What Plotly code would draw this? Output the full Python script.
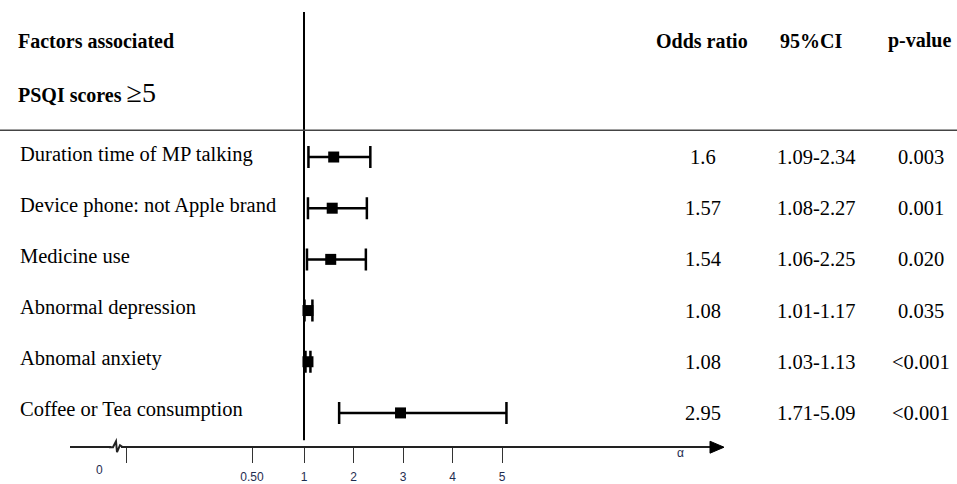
import plotly.graph_objects as go

# ---------------- data ----------------
factors = [
    "Duration time of MP talking",
    "Device phone: not Apple brand",
    "Medicine use",
    "Abnormal depression",
    "Abnomal anxiety",
    "Coffee or Tea consumption",
]
odds_ratio = [1.6, 1.57, 1.54, 1.08, 1.08, 2.95]
ci_low = [1.09, 1.08, 1.06, 1.01, 1.03, 1.71]
ci_high = [2.34, 2.27, 2.25, 1.17, 1.13, 5.09]
odds_text = ["1.6", "1.57", "1.54", "1.08", "1.08", "2.95"]
ci_text = ["1.09-2.34", "1.08-2.27", "1.06-2.25", "1.01-1.17", "1.03-1.13", "1.71-5.09"]
p_text = ["0.003", "0.001", "0.020", "0.035", "<0.001", "<0.001"]
tick_labels = ["0", "0.50", "1", "2", "3", "4", "5"]
tick_values = [1, 2, 3, 4, 5]

# ---------------- geometry helpers (layout only) ----------------
W, H = 957, 484
PX_ONE, PX_PER_UNIT = 304.0, 49.5     # pixel of OR=1 and pixels per unit


def v_of_px(px):
    return (px - PX_ONE) / PX_PER_UNIT + 1


def xp(px):
    return px / W


def yp(py):
    return 1 - py / H


ROW0, ROW_STEP = 158.0, 51.5
rows = list(range(len(factors)))
y_range = [(H - ROW0) / ROW_STEP, -ROW0 / ROW_STEP]
AX_LEFT, AX_RIGHT, AX_Y = 70, 723, 450

serif = "Liberation Serif"
sans = "Liberation Sans"
tick_color = "#1f2d50"
fig = go.Figure()

fig.add_trace(go.Scatter(
    x=odds_ratio, y=rows, mode="markers",
    marker=dict(symbol="square", size=11, color="black"),
    error_x=dict(type="data", symmetric=False,
                 array=[h - o for h, o in zip(ci_high, odds_ratio)],
                 arrayminus=[o - l for o, l in zip(odds_ratio, ci_low)],
                 color="black", thickness=2.5, width=11),
    showlegend=False, hoverinfo="skip",
))

# axis ticks: broken-axis positions for 0 and 0.50, linear for 1..5
tick_pos = [v_of_px(126), v_of_px(252)] + tick_values

fig.update_layout(
    width=W, height=H,
    margin=dict(l=0, r=0, t=0, b=0),
    paper_bgcolor="white", plot_bgcolor="white",
    xaxis=dict(
        domain=[xp(AX_LEFT), xp(AX_RIGHT)],
        range=[v_of_px(AX_LEFT), v_of_px(AX_RIGHT)],
        anchor="free", position=yp(AX_Y),
        showgrid=False, zeroline=False,
        showline=True, linecolor="#222", linewidth=2,
        ticks="outside", ticklen=15, tickwidth=1.3, tickcolor="#333",
        tickvals=tick_pos, ticktext=[""] + tick_labels[1:],
        tickfont=dict(family=sans, size=12, color=tick_color),
        ticklabelstandoff=3,
    ),
    yaxis=dict(
        domain=[0, 1], range=y_range,
        showgrid=False, zeroline=False, showline=False,
        showticklabels=False, ticks="",
    ),
)

shapes = []
# vertical reference line at OR = 1
shapes.append(dict(type="line", xref="x", yref="paper", x0=1, x1=1,
                   y0=yp(443), y1=yp(12), line=dict(color="black", width=2)))
# header rule
shapes.append(dict(type="line", xref="paper", yref="paper", x0=0, x1=1,
                   y0=yp(131), y1=yp(131), line=dict(color="#444", width=1.5)))
# axis break zigzag (white gap + zigzag stroke)
shapes.append(dict(type="rect", xref="paper", yref="paper",
                   x0=xp(111), x1=xp(121), y0=yp(455), y1=yp(445),
                   line=dict(width=0), fillcolor="white"))
shapes.append(dict(type="path", xref="paper", yref="paper",
                   path=(f"M {xp(109)},{yp(450)} L {xp(113)},{yp(450)} L {xp(116)},{yp(444)} "
                         f"L {xp(117)},{yp(455)} L {xp(120)},{yp(448)} L {xp(123)},{yp(450)}"),
                   line=dict(color="#222", width=2)))
# arrow head at axis end
shapes.append(dict(type="path", xref="paper", yref="paper",
                   path=(f"M {xp(710)},{yp(444)} L {xp(724)},{yp(450)} L {xp(710)},{yp(456)} Z"),
                   line=dict(color="black", width=1), fillcolor="black"))
fig.update_layout(shapes=shapes)

ann = []
# headers
ann.append(dict(text="<b>Factors associated</b>", x=xp(16), y=yp(41), xref="paper", yref="paper",
                xanchor="left", yanchor="middle", showarrow=False,
                font=dict(family=serif, size=20, color="black")))
ann.append(dict(text="<b>PSQI</b> <b>scores</b> <span style='font-size:28px'>≥5</span>",
                x=xp(16), y=yp(93), xref="paper", yref="paper",
                xanchor="left", yanchor="middle", showarrow=False,
                font=dict(family=serif, size=20, color="black")))
for txt, cx in [("Odds ratio", 702), ("95%CI", 811), ("p-value", 919)]:
    ann.append(dict(text=f"<b>{txt}</b>", x=xp(cx), y=yp(41), xref="paper", yref="paper",
                    xanchor="center", yanchor="middle", showarrow=False,
                    font=dict(family=serif, size=20, color="black")))
# row labels and values
for i, name in enumerate(factors):
    ann.append(dict(text=name, x=xp(18), y=i, xref="paper", yref="y", yshift=3,
                    xanchor="left", yanchor="middle", showarrow=False,
                    font=dict(family=serif, size=20.5, color="black")))
    for txt, cx in [(odds_text[i], 703), (ci_text[i], 816), (p_text[i], 921)]:
        ann.append(dict(text=txt, x=xp(cx), y=i, xref="paper", yref="y",
                        xanchor="center", yanchor="middle", showarrow=False,
                        font=dict(family=serif, size=20.5, color="black")))
# "0" tick label (offset from its tick in the original)
ann.append(dict(text=tick_labels[0], x=xp(99), y=yp(473), xref="paper", yref="paper",
                xanchor="center", yanchor="middle", showarrow=False,
                font=dict(family=sans, size=12, color=tick_color)))
# alpha label near axis end
ann.append(dict(text="α", x=xp(680), y=yp(456), xref="paper", yref="paper",
                xanchor="center", yanchor="middle", showarrow=False,
                font=dict(family=sans, size=12, color=tick_color)))
fig.update_layout(annotations=ann)

fig.write_html("out.html", config={"displayModeBar": False},
               post_script="document.body.style.margin='0px';")
